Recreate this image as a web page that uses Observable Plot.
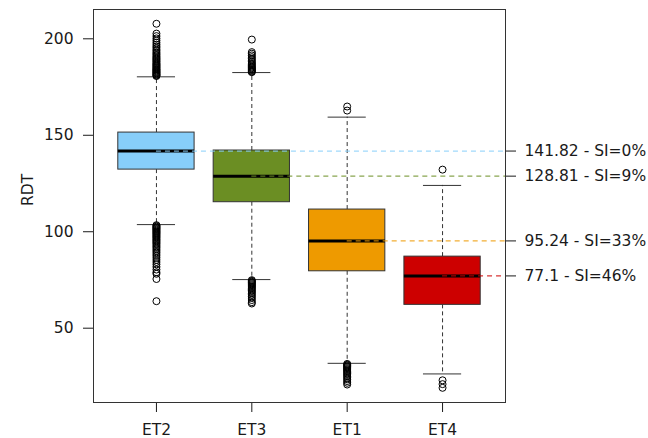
<!DOCTYPE html>
<html>
<head>
<meta charset="utf-8">
<script src="https://cdn.jsdelivr.net/npm/d3@7"></script>
<script src="https://cdn.jsdelivr.net/npm/@observablehq/plot@0.6"></script>
<style>
  html, body { margin: 0; padding: 0; background: #fff; }
  #chart svg { display: block; }
</style>
</head>
<body>
<div id="chart"></div>
<script>
// Boxplot summaries per treatment (in plotting order)
const categories = ["ET2", "ET3", "ET1", "ET4"];
const medians = [141.82, 128.81, 95.24, 77.1];
const q1 = [132.2, 115.3, 79.5, 62.1];
const q3 = [151.4, 142.1, 111.5, 87.1];
const whiskerLow = [103.7, 75.2, 31.8, 26.3];
const whiskerHigh = [180.3, 182.5, 159.4, 124.0];
const boxColors = ["#87CEFA", "#6B8E23", "#EE9A00", "#CD0000"];
const siLabels = ["141.82 - SI=0%", "128.81 - SI=9%", "95.24 - SI=33%", "77.1 - SI=46%"];
const yTicks = [50, 100, 150, 200];

// Outlying observations per treatment
const outliersET2 = [180.7, 181.0, 181.4, 181.7, 182.1, 182.5, 182.8, 183.2, 183.6, 184.0, 184.3, 184.8,
  185.2, 185.7, 186.1, 186.6, 187.0, 187.5, 188.1, 188.6, 189.2, 189.7, 190.3, 190.9, 191.6, 192.2,
  192.9, 193.7, 194.4, 195.3, 196.1, 197.0, 198.0, 199.1, 200.2, 201.4, 202.7, 207.8,
  103.4, 103.0, 102.6, 102.2, 101.8, 101.4, 101.0, 100.5, 100.1, 99.6, 99.2, 98.7, 98.2, 97.7, 97.2,
  96.7, 96.1, 95.6, 95.0, 94.4, 93.8, 93.1, 92.4, 91.7, 90.9, 90.1, 89.3, 88.4, 87.5, 86.5, 85.4,
  84.3, 83.1, 81.8, 80.4, 79.0, 78.2, 75.5, 64.0];
const outliersET3 = [182.7, 183.0, 183.4, 183.8, 184.2, 184.7, 185.1, 185.6, 186.2, 186.8, 187.4, 188.1,
  188.9, 189.7, 190.5, 191.4, 192.3, 193.1, 199.6,
  74.9, 74.5, 74.1, 73.7, 73.3, 72.8, 72.3, 71.8, 71.3, 70.7, 70.1, 69.5, 68.8, 68.1, 67.3, 66.5,
  65.6, 64.6, 63.5, 62.8];
const outliersET1 = [162.8, 164.9,
  31.5, 31.1, 30.7, 30.2, 29.8, 29.3, 28.8, 28.3, 27.7, 27.1, 26.5, 25.8, 25.1, 24.3, 23.5, 22.6,
  21.7, 20.8];
const outliersET4 = [132.2, 23.0, 21.0, 19.1];
const outlierLists = [outliersET2, outliersET3, outliersET1, outliersET4];

// Build the tables Plot needs
const boxes = categories.map((name, i) => ({
  name, pos: i + 1, median: medians[i], q1: q1[i], q3: q3[i],
  lo: whiskerLow[i], hi: whiskerHigh[i], color: boxColors[i]
}));
const outliers = outlierLists.flatMap((list, i) => list.map(v => ({pos: i + 1, value: v})));
const labelByMedian = new Map(medians.map((m, i) => [m, siLabels[i]]));

const xDomain = [0.34, 4.66];
const halfBox = 0.4, halfCap = 0.2;

const chart = Plot.plot({
  width: 648,
  height: 438,
  marginLeft: 93,
  marginRight: 143,
  marginTop: 9,
  marginBottom: 36,
  style: {fontFamily: "DejaVu Sans, sans-serif", fontSize: "15.5px", color: "#1a1a1a", background: "#fff"},
  x: {type: "linear", domain: xDomain},
  y: {domain: [11.49, 215.19]},
  marks: [
    // whiskers
    Plot.ruleX(boxes, {x: "pos", y1: "q3", y2: "hi", stroke: "#333", strokeDasharray: "4,3"}),
    Plot.ruleX(boxes, {x: "pos", y1: "q1", y2: "lo", stroke: "#333", strokeDasharray: "4,3"}),
    // whisker caps
    Plot.ruleY(boxes, {y: "hi", x1: d => d.pos - halfCap, x2: d => d.pos + halfCap, stroke: "#333"}),
    Plot.ruleY(boxes, {y: "lo", x1: d => d.pos - halfCap, x2: d => d.pos + halfCap, stroke: "#333"}),
    // boxes
    Plot.rect(boxes, {x1: d => d.pos - halfBox, x2: d => d.pos + halfBox, y1: "q1", y2: "q3",
      fill: d => d.color, stroke: "#333", strokeWidth: 1}),
    // medians
    Plot.ruleY(boxes, {y: "median", x1: d => d.pos - halfBox, x2: d => d.pos + halfBox,
      stroke: "#000", strokeWidth: 3}),
    // dashed reference lines from each median to the right edge
    Plot.ruleY(boxes, {y: "median", x1: "pos", x2: () => xDomain[1],
      stroke: d => d.color, strokeOpacity: 0.8, strokeWidth: 1.3, strokeDasharray: "5,4"}),
    // outliers
    Plot.dot(outliers, {x: "pos", y: "value", r: 3.5, stroke: "#000", fill: "none", strokeWidth: 1}),
    // axes
    Plot.axisY({anchor: "left", ticks: yTicks, tickSize: 10, tickPadding: 10, label: null}),
    Plot.axisY({anchor: "right", ticks: medians, tickFormat: d => labelByMedian.get(d),
      tickSize: 10, tickPadding: 9, label: null}),
    Plot.axisX({ticks: [1, 2, 3, 4], tickFormat: d => categories[d - 1],
      tickSize: 10, tickPadding: 11, label: null}),
    Plot.text(["RDT"], {frameAnchor: "left", rotate: -90, dx: -65, fontSize: 15.5}),
    Plot.frame({stroke: "#333"})
  ]
});

document.getElementById("chart").appendChild(chart);
</script>
</body>
</html>
